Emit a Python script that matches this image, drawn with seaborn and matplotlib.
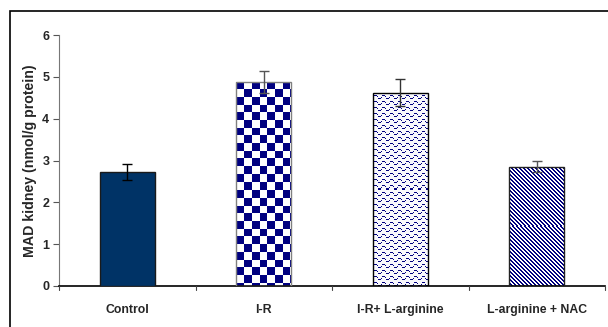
import numpy as np
import pandas as pd
import matplotlib
matplotlib.use("Agg")
import matplotlib.pyplot as plt
from matplotlib.patches import Rectangle
import seaborn as sns

groups = ["Control", "I-R", "I-R+ L-arginine", "L-arginine + NAC"]
mad = [2.73, 4.88, 4.62, 2.85]
sem = [0.19, 0.26, 0.32, 0.13]
y_ticks = [0, 1, 2, 3, 4, 5, 6]

NAVY = (0, 0, 128)
WHITE = (255, 255, 255)

sns.set_style("white")
plt.rcParams["font.family"] = ["Liberation Sans", "DejaVu Sans"]

df = pd.DataFrame({"group": groups, "mad": mad})

fig = plt.figure(figsize=(6.08, 3.27), dpi=100)
W, H = 608, 327
ax = fig.add_axes([59 / W, (327 - 286) / H, (605 - 59) / W, (286 - 35) / H])

sns.barplot(data=df, x="group", y="mad", order=groups, width=0.4,
            color="#003366", errorbar=None, ax=ax, zorder=2)
bars = list(ax.patches)

bars[0].set_facecolor("#003366")
bars[0].set_edgecolor("#1a1a1a")
bars[1].set_facecolor("white")
bars[1].set_edgecolor("#808080")
bars[2].set_facecolor("#f8f8fc")
bars[2].set_edgecolor("black")
bars[3].set_facecolor("white")
bars[3].set_edgecolor("#222222")
for b in bars:
    b.set_linewidth(1.0)
    b.set_zorder(3)

ax.set_ylim(0, 6)
ax.set_xlim(-0.5, 3.5)
ax.set_yticks(y_ticks)
ax.set_yticklabels([str(t) for t in y_ticks], fontsize=9, fontweight="bold")
ax.set_xticks(range(len(groups)))
ax.set_xticklabels(groups, fontsize=8.8, fontweight="bold")
ax.tick_params(axis="x", length=0, pad=13)
ax.tick_params(axis="y", left=True, length=4, width=0.8, color="#555555", pad=3)
for x in [-0.5, 0.5, 1.5, 2.5, 3.5]:
    ax.plot([x, x], [0, -0.09], color="#444444", lw=0.8, clip_on=False, zorder=4)

for s in ["top", "right"]:
    ax.spines[s].set_visible(False)
ax.spines["left"].set_color("#777777")
ax.spines["left"].set_linewidth(0.8)
ax.spines["bottom"].set_color("black")
ax.spines["bottom"].set_linewidth(1.2)
ax.set_xlabel("")
ax.set_ylabel("MAD kidney (nmol/g protein)", fontsize=10.2, fontweight="bold", labelpad=4)

# error bars
ecolors = ["black", "#555555", "#333333", "#555555"]
for i in range(len(groups)):
    ax.errorbar(i, mad[i], yerr=sem[i], fmt="none", ecolor=ecolors[i],
                elinewidth=1.0, capsize=3.5, capthick=1.0, zorder=6)

fig.canvas.draw()


def texture(kind, w, h):
    yy, xx = np.mgrid[0:h, 0:w]
    img = np.empty((h, w, 3), dtype=np.uint8)
    img[:] = WHITE
    if kind == "checker":
        cell = 7.7
        mask = ((np.floor(xx / cell) + np.floor(yy / cell)) % 2) == 0
    elif kind == "wave":
        img[:] = (248, 248, 252)
        offset = np.rint(1.5 * np.sin(2 * np.pi * xx / 8.0) + 1.5).astype(int)
        mask = ((yy + offset) % 6) == 0
    else:
        mask = ((xx - yy) % 4) < 2
    img[mask] = NAVY
    return img


for b, kind in zip(bars[1:], ["checker", "wave", "diag"]):
    ext = b.get_window_extent()
    w = max(int(round(ext.width)), 1)
    h = max(int(round(ext.height)), 1)
    x0, y0 = b.get_x(), b.get_y()
    im = ax.imshow(texture(kind, w, h), extent=(x0, x0 + b.get_width(), y0, y0 + b.get_height()),
                   aspect="auto", interpolation="nearest", zorder=2.5, origin="upper")
    im.set_clip_path(b)
    b.set_facecolor("none")

ax.set_xlim(-0.5, 3.5)
ax.set_ylim(0, 6)
ax.set_aspect("auto")

# outer chart frame
fig.patches.append(Rectangle((10 / W, -0.05), 1.1, (327 - 11) / H + 0.05,
                             transform=fig.transFigure, fill=False,
                             edgecolor="black", linewidth=1.2, clip_on=False))

fig.savefig("out.png", dpi=100)
